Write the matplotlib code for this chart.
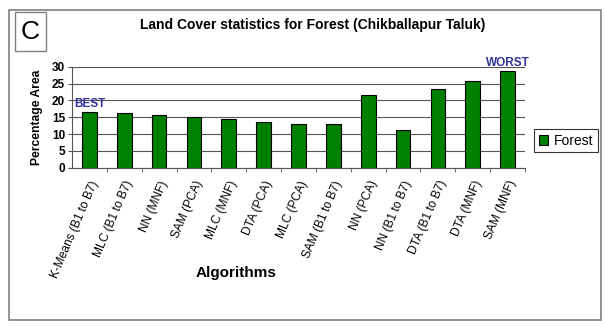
import matplotlib.pyplot as plt
from matplotlib.patches import Rectangle

plt.rcParams['font.family'] = ['Liberation Sans', 'DejaVu Sans']

algorithms = ['K-Means (B1 to B7)', 'MLC (B1 to B7)', 'NN (MNF)', 'SAM (PCA)',
              'MLC (MNF)', 'DTA (PCA)', 'MLC (PCA)', 'SAM (B1 to B7)',
              'NN (PCA)', 'NN (B1 to B7)', 'DTA (B1 to B7)', 'DTA (MNF)',
              'SAM (MNF)']
forest = [16.6, 16.3, 15.6, 15.2, 14.5, 13.7, 13.0, 13.0, 21.5, 11.1, 23.5, 25.8, 28.8]
yticks = [0, 5, 10, 15, 20, 25, 30]

W, H = 605, 326
fig = plt.figure(figsize=(W / 100, H / 100), dpi=100)

# outer frame
fig.patches.append(Rectangle((9 / W, 1 - 320 / H), 592 / W, 310 / H,
                             transform=fig.transFigure, fill=False,
                             edgecolor='#808080', lw=1.2))
# panel letter box
fig.patches.append(Rectangle((15 / W, 1 - 51 / H), 31 / W, 39 / H,
                             transform=fig.transFigure, fill=False,
                             edgecolor='#808080', lw=1))
fig.text(30.5 / W, 1 - 32 / H, 'C', fontsize=19, ha='center', va='center')
fig.text(313 / W, 1 - 25 / H, 'Land Cover statistics for Forest (Chikballapur Taluk)',
         fontsize=10, fontweight='bold', ha='center', va='center')

ax = fig.add_axes([72 / W, 1 - 167.7 / H, (525 - 72) / W, 101 / H])
x = range(len(algorithms))
bars = ax.bar(x, forest, width=0.42, color='#008000', edgecolor='black', lw=0.8,
              label='Forest', zorder=3)
ax.set_xlim(-0.5, len(algorithms) - 0.5)
ax.set_ylim(0, 30)
ax.set_yticks(yticks)
ax.set_yticklabels([str(t) for t in yticks], fontweight='bold', fontsize=8.5)
ax.yaxis.grid(True, color='#555555', lw=0.8, zorder=0)
ax.set_xticks([i + 0.5 for i in range(len(algorithms))], minor=True)
ax.set_xticks(list(x))
ax.set_xticklabels(algorithms, rotation=67, ha='right', rotation_mode='anchor',
                   fontsize=8.6)
ax.tick_params(axis='x', which='major', length=0, pad=8)
ax.tick_params(axis='x', which='minor', length=3, color='#555555')
ax.tick_params(axis='y', length=3, pad=2, color='#555555')
for s in ['top', 'right']:
    ax.spines[s].set_visible(False)
ax.spines['left'].set_color('#555555')
ax.spines['bottom'].set_color('#555555')

ax.set_ylabel('Percentage Area', fontweight='bold', fontsize=8.7, labelpad=6)
fig.text(236 / W, 1 - 273 / H, 'Algorithms', fontsize=11, fontweight='bold',
         ha='center', va='center')

ax.text(0, forest[0] + 0.6, 'BEST', color='#333399', fontweight='bold',
        fontsize=8.5, ha='center', va='bottom')
ax.text(len(forest) - 1, forest[-1] + 0.5, 'WORST', color='#333399',
        fontweight='bold', fontsize=8.5, ha='center', va='bottom', clip_on=False)

leg = fig.legend(handles=[bars], labels=['Forest'], loc='center',
                 bbox_to_anchor=(566 / W, 1 - 140.5 / H), fontsize=10,
                 frameon=True, fancybox=False, edgecolor='black',
                 handlelength=0.7, handleheight=0.7, handletextpad=0.4,
                 borderpad=0.35)
leg.get_frame().set_linewidth(0.8)

fig.savefig('out.png', dpi=100)
